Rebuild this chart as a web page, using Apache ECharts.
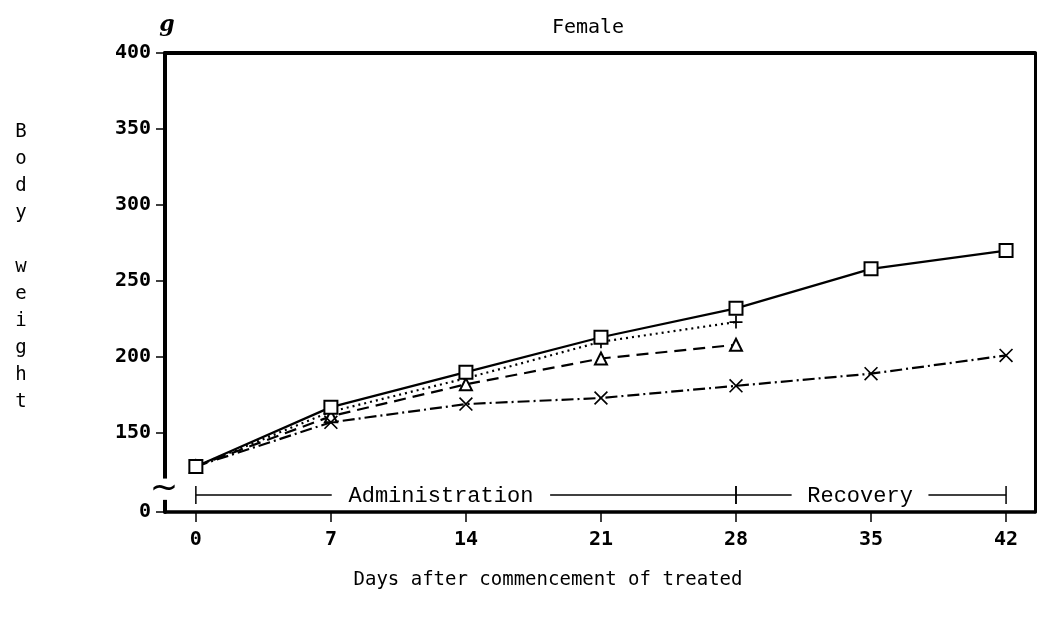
<!DOCTYPE html>
<html>
<head>
    <meta charset="utf-8">
    <script src="https://cdn.jsdelivr.net/npm/echarts@6/dist/echarts.min.js"></script>
</head>
<body style="margin:0;background:#fff">
<div id="main" style="width: 1052px;height:624px"></div>

<script type="text/javascript">
    // days of weighing
    var days = [0, 7, 14, 21, 28, 35, 42];
    // body weight (g)
    var ctrl  = [128, 167, 190, 213, 232, 258, 270];   // square, solid
    var low   = [128, 164, 186, 210, 223];             // plus, dotted
    var mid   = [128, 161, 182, 199, 208];             // triangle, dashed
    var high  = [128, 157, 169, 173, 181, 189, 201];   // cross, dash-dot
    var xTicks = [0, 7, 14, 21, 28, 35, 42];
    var yTicks = [0, 150, 200, 250, 300, 350, 400];
    var yBreak = { start: 8, end: 120, gap: 14 };
    var periods = [
        { name: 'Administration', from: 0, to: 28 },
        { name: 'Recovery', from: 28, to: 42 }
    ];

    var mono = 'DejaVu Sans Mono';
    var chartDom = document.getElementById('main');
    var myChart = echarts.init(chartDom);

    function pairs(vals) {
        return vals.map(function (v, i) { return [days[i], v]; });
    }

    var plusPath = 'path://M-0.8,-6H0.8V6H-0.8Z M-6,-0.8H6V0.8H-6Z';
    var crossPath = 'path://M-6,-5L-5,-6L6,5L5,6Z M5,-6L6,-5L-5,6L-6,5Z';

    var option = {
        animation: false,
        grid: { left: 165, right: 17, top: 53, bottom: 112 },
        xAxis: [
            {
                type: 'value',
                min: -1.6,
                max: 43.5,
                axisLine: { onZero: false, lineStyle: { color: '#000', width: 3.5 } },
                axisTick: { customValues: xTicks, length: 10, lineStyle: { color: '#000', width: 1.5 } },
                axisLabel: { customValues: xTicks, margin: 18, color: '#000', fontFamily: mono, fontSize: 20, fontWeight: 'bold' },
                splitLine: { show: false }
            },
            {
                type: 'value', position: 'top', min: 0, max: 1,
                axisLine: { show: true, onZero: false, lineStyle: { color: '#000', width: 4 } },
                axisTick: { show: false }, axisLabel: { show: false }, splitLine: { show: false }
            }
        ],
        yAxis: [
            {
                type: 'value',
                min: 0,
                max: 400,
                breaks: [yBreak],
                breakArea: { show: false },
                axisLine: { show: true, onZero: false, lineStyle: { color: '#000', width: 4 } },
                axisTick: { customValues: yTicks, length: 9, lineStyle: { color: '#000', width: 1.5 } },
                axisLabel: { customValues: yTicks, margin: 14, color: '#000', fontFamily: mono, fontSize: 20, fontWeight: 'bold' },
                splitLine: { show: false }
            },
            {
                type: 'value', position: 'right', min: 0, max: 1,
                axisLine: { show: true, onZero: false, lineStyle: { color: '#000', width: 3 } },
                axisTick: { show: false }, axisLabel: { show: false }, splitLine: { show: false }
            }
        ],
        series: [
            {
                name: 'control', type: 'line', data: pairs(ctrl),
                symbol: 'emptyRect', symbolSize: 13, z: 5,
                lineStyle: { color: '#000', width: 2.2 },
                itemStyle: { color: '#000', borderWidth: 2 }
            },
            {
                name: 'low', type: 'line', data: pairs(low),
                symbol: plusPath, symbolSize: 13,
                lineStyle: { color: '#000', width: 2.2, type: [2, 4] },
                itemStyle: { color: '#000' }
            },
            {
                name: 'mid', type: 'line', data: pairs(mid),
                symbol: 'emptyTriangle', symbolSize: 12,
                lineStyle: { color: '#000', width: 2.2, type: [12, 7] },
                itemStyle: { color: '#000', borderWidth: 2 }
            },
            {
                name: 'high', type: 'line', data: pairs(high),
                symbol: crossPath, symbolSize: 14,
                lineStyle: { color: '#000', width: 2.2, type: [12, 4, 2, 4] },
                itemStyle: { color: '#000' }
            }
        ]
    };

    myChart.setOption(option);

    // annotations placed through the axis scales
    var y0 = myChart.convertToPixel({ yAxisIndex: 0 }, 0);
    var yBs = myChart.convertToPixel({ yAxisIndex: 0 }, yBreak.start);
    var yBe = myChart.convertToPixel({ yAxisIndex: 0 }, yBreak.end);
    var xLeft = myChart.convertToPixel({ xAxisIndex: 0 }, -1.6);
    var barY = y0 - 17;
    var g = [];
    var txtStyle = { fontFamily: 'Liberation Mono', fontSize: 22, fill: '#000' };
    function seg(x1, y1, x2, y2) {
        return { type: 'line', z: 100, shape: { x1: x1, y1: y1, x2: x2, y2: y2 }, style: { stroke: '#000', lineWidth: 1.5 } };
    }
    periods.forEach(function (p) {
        var a = myChart.convertToPixel({ xAxisIndex: 0 }, p.from);
        var b = myChart.convertToPixel({ xAxisIndex: 0 }, p.to);
        var mid = (a + b) / 2 + (p.from === 0 ? -25 : -11);
        var half = p.name.length * 6.8 + 14;
        g.push(seg(a, barY, mid - half, barY));
        g.push(seg(mid + half, barY, b, barY));
        g.push(seg(a, barY - 9, a, barY + 9));
        g.push(seg(b, barY - 9, b, barY + 9));
        g.push({ type: 'text', z: 100, x: mid, y: barY + 1, style: Object.assign({ text: p.name, align: 'center', verticalAlign: 'middle' }, txtStyle) });
    });
    // break in the value axis line, with its mark
    g.push({ type: 'rect', z: 90, shape: { x: xLeft - 4, y: yBe, width: 8, height: yBs - yBe }, style: { fill: '#fff' } });
    g.push({ type: 'text', z: 100, x: xLeft - 1, y: (yBs + yBe) / 2, style: { text: '~', fontFamily: 'DejaVu Sans', fontSize: 34, fill: '#000', align: 'center', verticalAlign: 'middle' } });
    // titles
    g.push({ type: 'text', z: 100, x: 588, y: 28, style: { text: 'Female', fontFamily: mono, fontSize: 20, fill: '#000', align: 'center', verticalAlign: 'middle' } });
    g.push({ type: 'text', z: 100, x: 167, y: 25, style: { text: 'g', fontFamily: 'DejaVu Serif', fontStyle: 'italic', fontWeight: 'bold', fontSize: 22, fill: '#000', align: 'center', verticalAlign: 'middle' } });
    g.push({ type: 'text', z: 100, x: 548, y: 580, style: { text: 'Days after commencement of treated', fontFamily: mono, fontSize: 19, fill: '#000', align: 'center', verticalAlign: 'middle' } });
    g.push({ type: 'text', z: 100, x: 21, y: 119, style: { text: 'B\no\nd\ny\n\nw\ne\ni\ng\nh\nt', fontFamily: mono, fontSize: 19, lineHeight: 27, fill: '#000', align: 'center', verticalAlign: 'top' } });

    myChart.setOption({ graphic: g });
</script>
</body>
</html>
